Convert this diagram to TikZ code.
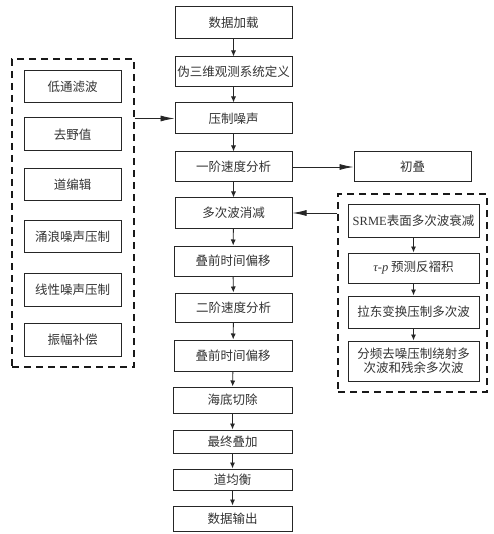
\documentclass[tikz,border=0pt]{standalone}
\usepackage{fontspec}
\setmainfont{Liberation Serif}
\newfontfamily\cjk{Noto Sans CJK SC}
\newfontfamily\lat{Liberation Serif}
\usetikzlibrary{arrows.meta}
\tikzset{
  box/.style={draw=black!85, line width=1pt, minimum width=117pt, minimum height=30pt,
    inner sep=1pt, font=\cjk\fontsize{12.5}{15}\selectfont, text=black!80, align=center},
  sbox/.style={box, minimum width=97pt},
  rbox/.style={box, minimum width=131pt},
  dbox/.style={draw=black!90, line width=1.4pt, dash pattern=on 7pt off 5pt, inner sep=0pt},
  varrow/.style={draw=black!85, line width=0.9pt, -{Latex[length=6pt,width=5pt]}},
  harrow/.style={draw=black!85, line width=0.9pt, -{Latex[length=14pt,width=6pt]}}
}
\begin{document}
\begin{tikzpicture}[x=1pt,y=-1pt]
\useasboundingbox (0,0) rectangle (493,534);
\fill[white] (0,0) rectangle (493,534);
% main column
\node[box, minimum height=32pt] (n1) at (233.5,23) {数据加载};
\node[box] (n2) at (233.5,72) {伪三维观测系统定义};
\node[box, minimum height=31pt] (n3) at (233.5,118.5) {压制噪声};
\node[box] (n4) at (233.5,167) {一阶速度分析};
\node[box] (n5) at (233.5,213) {多次波消减};
\node[box, minimum width=118pt] (n6) at (233,261) {叠前时间偏移};
\node[box, minimum height=29pt] (n7) at (233.5,307.5) {二阶速度分析};
\node[box, minimum width=118pt, minimum height=31pt] (n8) at (233,355.5) {叠前时间偏移};
\node[box, minimum width=119pt, minimum height=26pt] (n9) at (232.5,400) {海底切除};
\node[box, minimum width=119pt, minimum height=23pt] (n10) at (232.5,441.5) {最终叠加};
\node[box, minimum width=119pt, minimum height=21pt] (n11) at (232.5,479.5) {道均衡};
\node[box, minimum width=119pt, minimum height=25pt] (n12) at (232.5,518.5) {数据输出};
\node[box] (chu) at (412.5,167) {初叠};
% left group
\node[dbox, minimum width=122pt, minimum height=308pt] (lg) at (73,213) {};
\node[sbox, minimum height=32pt] (l1) at (72.5,87) {低通滤波};
\node[sbox, minimum height=33pt] (l2) at (72.5,134.5) {去野值};
\node[sbox, minimum height=32pt] (l3) at (72.5,185) {道编辑};
\node[sbox, minimum height=31pt] (l4) at (72.5,236.5) {涌浪噪声压制};
\node[sbox, minimum height=33pt] (l5) at (72.5,289.5) {线性噪声压制};
\node[sbox, minimum height=33pt] (l6) at (72.5,339.5) {振幅补偿};
% right group
\node[dbox, minimum width=149pt, minimum height=198pt] (rg) at (412.5,293) {};
\node[rbox, minimum height=32pt] (r1) at (413.5,221) {{\lat SRME}表面多次波衰减};
\node[rbox] (r2) at (413.5,268) {{\lat\itshape τ-p} 预测反褶积};
\node[rbox, minimum height=32pt] (r3) at (413.5,312) {拉东变换压制多次波};
\node[rbox, minimum height=40pt, font=\cjk\fontsize{12.5}{14.5}\selectfont] (r4) at (413.5,361) {分频去噪压制绕射多\\次波和残余多次波};
% arrows
\foreach \a/\b in {n1/n2,n2/n3,n3/n4,n4/n5,n5/n6,n6/n7,n7/n8,n8/n9,n9/n10,n10/n11,n11/n12,r1/r2,r2/r3,r3/r4}
  \draw[varrow] (\a) -- (\b);
\draw[harrow] (n4.east) -- (chu.west);
\draw[harrow] (lg.east |- n3) -- (n3.west);
\draw[harrow] (rg.west |- n5) -- (n5.east);
\end{tikzpicture}
\end{document}
